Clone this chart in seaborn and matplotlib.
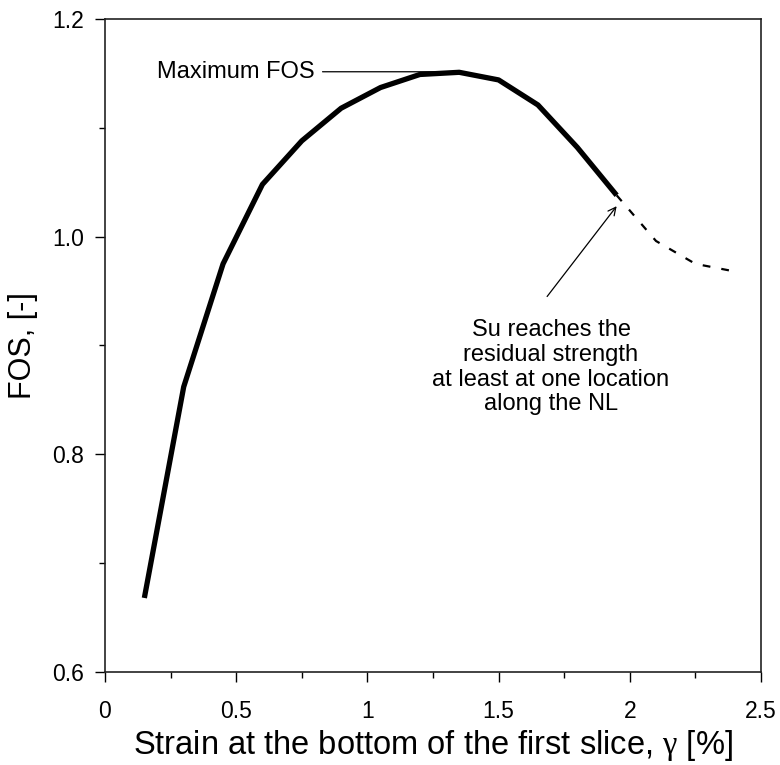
import matplotlib
matplotlib.use("Agg")
import matplotlib.pyplot as plt
from matplotlib.ticker import MultipleLocator, FixedLocator
import seaborn as sns
import pandas as pd

# Factor of safety vs. strain at the base of the first slice
strain_solid = [0.15, 0.30, 0.45, 0.60, 0.75, 0.90, 1.05, 1.20, 1.35, 1.50, 1.65, 1.80, 1.95]
fos_solid = [0.668, 0.862, 0.975, 1.048, 1.088, 1.118, 1.137, 1.149, 1.151, 1.144, 1.121, 1.082, 1.038]

# Post-peak branch once residual strength is reached
strain_dashed = [1.95, 2.10, 2.25, 2.40]
fos_dashed = [1.038, 0.996, 0.975, 0.968]

x_ticks = [0, 0.5, 1, 1.5, 2, 2.5]
x_tick_labels = ["0", "0.5", "1", "1.5", "2", "2.5"]
y_ticks = [0.6, 0.8, 1.0, 1.2]
y_tick_labels = ["0.6", "0.8", "1.0", "1.2"]

max_fos_x, max_fos_y = 1.35, 1.1515

sns.set_theme(style="ticks")
plt.rcParams["font.family"] = ["Liberation Sans", "DejaVu Sans"]
plt.rcParams["mathtext.fontset"] = "custom"
plt.rcParams["mathtext.rm"] = "Liberation Serif"
plt.rcParams["mathtext.it"] = "Liberation Serif"
plt.rcParams["text.color"] = "black"
plt.rcParams["axes.labelcolor"] = "black"
plt.rcParams["xtick.labelcolor"] = "black"
plt.rcParams["ytick.labelcolor"] = "black"

fig = plt.figure(figsize=(7.8, 7.65), dpi=100)
ax = fig.add_axes([0.1346, 0.1216, 0.8410, 0.8536])

df_solid = pd.DataFrame({"strain": strain_solid, "fos": fos_solid})
df_dashed = pd.DataFrame({"strain": strain_dashed, "fos": fos_dashed})

sns.lineplot(data=df_solid, x="strain", y="fos", ax=ax, color="black",
             linewidth=3.8, sort=False, solid_capstyle="butt")
sns.lineplot(data=df_dashed, x="strain", y="fos", ax=ax, color="black",
             linewidth=1.6, sort=False)
ax.lines[-1].set_dashes([3.5, 5])

ax.set_xlim(0, 2.5)
ax.set_ylim(0.6, 1.2)
ax.xaxis.set_major_locator(FixedLocator(x_ticks))
ax.set_xticklabels(x_tick_labels)
ax.yaxis.set_major_locator(FixedLocator(y_ticks))
ax.set_yticklabels(y_tick_labels)
ax.xaxis.set_minor_locator(MultipleLocator(0.25))
ax.yaxis.set_minor_locator(MultipleLocator(0.1))

ax.tick_params(axis="both", which="major", direction="out", length=7,
               width=1.0, color="black", labelsize=16.5)
ax.tick_params(axis="x", which="major", pad=13)
ax.tick_params(axis="y", which="major", pad=8)
ax.tick_params(axis="both", which="minor", direction="out", length=4,
               width=1.0, color="black")
for sp in ax.spines.values():
    sp.set_visible(True)
    sp.set_linewidth(1.2)
    sp.set_color("#222222")

ax.set_xlabel("Strain at the bottom of the first slice, $\\mathrm{\\gamma}$ [%]",
              fontsize=23.5, labelpad=4)
ax.set_ylabel("FOS, [-]", fontsize=22, labelpad=10)

# Peak marker label
ax.annotate("Maximum FOS", xy=(max_fos_x, max_fos_y), xytext=(0.20, max_fos_y),
            fontsize=17, ha="left", va="center",
            arrowprops=dict(arrowstyle="-", color="black", lw=0.9,
                            shrinkA=3, shrinkB=0))

# Residual strength arrow and note
ax.annotate("", xy=(1.95, 1.028), xytext=(1.685, 0.945),
            arrowprops=dict(arrowstyle="->", color="black", lw=0.9,
                            mutation_scale=14, shrinkA=0, shrinkB=0))
ax.text(1.70, 0.880,
        "Su reaches the\nresidual strength\nat least at one location\nalong the NL",
        fontsize=17, ha="center", va="center", linespacing=1.15)

fig.savefig("out.png", dpi=100)
